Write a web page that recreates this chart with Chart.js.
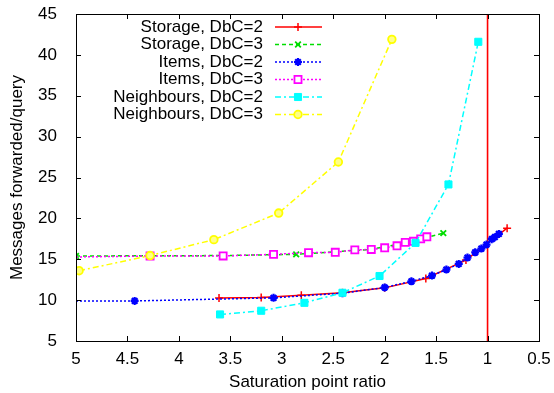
<!DOCTYPE html>
<html>
<head>
<meta charset="utf-8">
<script src="https://cdn.jsdelivr.net/npm/chart.js@4.4.1/dist/chart.umd.min.js"></script>
<style>
  html, body { margin: 0; padding: 0; background: #fff; }
  #wrap { width: 554px; height: 393px; }
</style>
</head>
<body>
<div id="wrap"><canvas id="chart" width="554" height="393"></canvas></div>
<script>
// series values (x = saturation point ratio, y = messages/query)
var seriesLabels = ['Storage, DbC=2', 'Storage, DbC=3', 'Items, DbC=2', 'Items, DbC=3', 'Neighbours, DbC=2', 'Neighbours, DbC=3'];

var storage2X = [3.61, 3.2, 2.81, 2.41, 2.0, 1.6, 1.21, 0.81];
var storage2Y = [10.25, 10.33, 10.6, 10.9, 11.5, 12.65, 14.9, 18.8];

var storage3X = [5, 3.57, 2.86, 2.14, 1.79, 1.43];
var storage3Y = [15.4, 15.45, 15.6, 16.2, 17.0, 18.2];

var items2X = [5, 4.43, 3.08, 2.41, 2.0, 1.74, 1.54, 1.4, 1.28, 1.195, 1.12, 1.06, 1.01, 0.96, 0.93, 0.89];
var items2Y = [9.9, 9.9, 10.28, 10.85, 11.55, 12.3, 13.0, 13.74, 14.43, 15.2, 15.85, 16.3, 16.8, 17.45, 17.7, 18.1];

var items3X = [5, 4.28, 3.57, 3.08, 2.74, 2.48, 2.29, 2.13, 2.0, 1.88, 1.8, 1.72, 1.65, 1.59];
var items3Y = [15.28, 15.4, 15.4, 15.6, 15.8, 15.85, 16.15, 16.2, 16.4, 16.65, 17.07, 17.2, 17.5, 17.75];

var neigh2X = [3.6, 3.2, 2.78, 2.41, 2.05, 1.7, 1.38, 1.09];
var neigh2Y = [8.25, 8.7, 9.67, 10.9, 12.95, 17.0, 24.15, 41.6];

var neigh3X = [4.97, 4.28, 3.66, 3.03, 2.45, 1.93];
var neigh3Y = [13.6, 15.45, 17.4, 20.65, 26.9, 41.9];

// saturation marker at ratio 1
var limitX = [1, 1];
var limitY = [5, 45];

var xTickMin = 0.5, xTickMax = 5, xStep = 0.5;
var yTickMin = 5, yTickMax = 45, yStep = 5;

function pts(xs, ys) {
  return xs.map(function (x, i) { return { x: x, y: ys[i] }; });
}

var FONT = '"Liberation Sans", Arial, sans-serif';
Chart.defaults.font.family = FONT;
Chart.defaults.font.size = 17;
Chart.defaults.color = '#000';

// hideFirst: marker at the left border is not visible in the original
var styles = [
  { color: '#ff0000', dash: [], point: 'cross', radius: 4, bw: 1.5, fill: '#ff0000' },
  { color: '#00dd00', dash: [4, 3], point: 'crossRot', radius: 4, bw: 1.8, fill: '#00dd00' },
  { color: '#0000ff', dash: [2, 2], point: 'star', radius: 4, bw: 2.2, fill: '#0000ff', hideFirst: true },
  { color: '#ff00ff', dash: [2, 2], point: 'rect', radius: 5, bw: 1.8, fill: '#ffffff', hideFirst: true },
  { color: '#00ffff', dash: [6, 3, 2, 3], point: 'rect', radius: 5, bw: 1, fill: '#00ffff' },
  { color: '#ffff00', dash: [6, 3, 2, 3], point: 'circle', radius: 3.8, bw: 1.8, fill: '#ffff88' }
];
var seriesData = [
  pts(storage2X, storage2Y), pts(storage3X, storage3Y),
  pts(items2X, items2Y), pts(items3X, items3Y),
  pts(neigh2X, neigh2Y), pts(neigh3X, neigh3Y)
];

var datasets = seriesLabels.map(function (lab, i) {
  var s = styles[i];
  var radius = s.hideFirst ? function (c) { return c.dataIndex === 0 ? 0 : s.radius; } : s.radius;
  return {
    label: lab,
    data: seriesData[i],
    borderColor: s.color,
    backgroundColor: s.fill,
    borderWidth: 1.5,
    borderDash: s.dash,
    pointStyle: s.point,
    pointRadius: radius,
    pointBorderWidth: s.bw,
    pointBorderColor: s.color,
    pointBackgroundColor: s.fill,
    tension: 0,
    order: 6 - i
  };
});
datasets.push({
  label: '',
  data: pts(limitX, limitY),
  borderColor: '#ff0000',
  borderWidth: 1.6,
  pointRadius: 0,
  order: 10
});

// gnuplot-like frame, inward ticks on all sides, legend with text left of sample
var framePlugin = {
  id: 'frame',
  afterDraw: function (chart) {
    var ctx = chart.ctx, a = chart.chartArea;
    var xs = chart.scales.x, ys = chart.scales.y;
    ctx.save();
    ctx.strokeStyle = '#000';
    ctx.lineWidth = 1;
    ctx.setLineDash([]);
    ctx.strokeRect(Math.round(a.left) + 0.5, Math.round(a.top) + 0.5, Math.round(a.right - a.left), Math.round(a.bottom - a.top));
    var t = 5;
    ctx.beginPath();
    for (var v = xTickMin; v <= xTickMax + 1e-9; v += xStep) {
      var px = Math.round(xs.getPixelForValue(v)) + 0.5;
      ctx.moveTo(px, a.bottom); ctx.lineTo(px, a.bottom - t);
      ctx.moveTo(px, a.top); ctx.lineTo(px, a.top + t);
    }
    for (var w = yTickMin; w <= yTickMax + 1e-9; w += yStep) {
      var py = Math.round(ys.getPixelForValue(w)) + 0.5;
      ctx.moveTo(a.left, py); ctx.lineTo(a.left + t, py);
      ctx.moveTo(a.right, py); ctx.lineTo(a.right - t, py);
    }
    ctx.stroke();

    // legend
    ctx.font = '17px ' + FONT;
    ctx.textAlign = 'right';
    ctx.textBaseline = 'middle';
    for (var i = 0; i < seriesLabels.length; i++) {
      var s = styles[i];
      var y = 27 + i * 17.5;
      ctx.fillStyle = '#000';
      ctx.fillText(seriesLabels[i], 263, y);
      ctx.strokeStyle = s.color;
      ctx.lineWidth = 1.5;
      ctx.setLineDash(s.dash);
      ctx.beginPath();
      ctx.moveTo(275, y); ctx.lineTo(322, y);
      ctx.stroke();
      ctx.setLineDash([]);
      ctx.fillStyle = s.fill;
      ctx.lineWidth = s.bw;
      Chart.helpers.drawPoint(ctx, { pointStyle: s.point, radius: s.radius, rotation: 0, borderWidth: s.bw }, 298, y);
    }
    ctx.restore();
  }
};

function noOverhang(s) {
  s.paddingLeft = 0; s.paddingRight = 0; s.paddingTop = 0; s.paddingBottom = 0;
}

new Chart(document.getElementById('chart'), {
  type: 'line',
  data: { datasets: datasets },
  options: {
    responsive: false,
    devicePixelRatio: 1,
    animation: false,
    parsing: false,
    layout: { padding: { left: 0, right: 15, top: 14, bottom: 0 } },
    plugins: { legend: { display: false }, tooltip: { enabled: false } },
    scales: {
      x: {
        type: 'linear',
        reverse: true,
        min: xTickMin,
        max: xTickMax,
        ticks: {
          stepSize: xStep, padding: 8, color: '#000', maxRotation: 0, autoSkip: false,
          callback: function (v) { return String(Math.round(v * 10) / 10); }
        },
        grid: { drawOnChartArea: false, drawTicks: false },
        border: { color: '#000' },
        title: { display: true, text: 'Saturation point ratio', color: '#000', padding: { top: 0, bottom: 0 } },
        afterFit: function (s) { s.height = 52; noOverhang(s); }
      },
      y: {
        type: 'linear',
        min: yTickMin,
        max: yTickMax,
        ticks: { stepSize: yStep, padding: 19, color: '#000' },
        grid: { drawOnChartArea: false, drawTicks: false },
        border: { color: '#000' },
        title: { display: true, text: 'Messages forwarded/query', color: '#000', padding: { top: 7, bottom: 0 } },
        afterFit: function (s) { s.width = 76; noOverhang(s); }
      }
    }
  },
  plugins: [framePlugin]
});
</script>
</body>
</html>
